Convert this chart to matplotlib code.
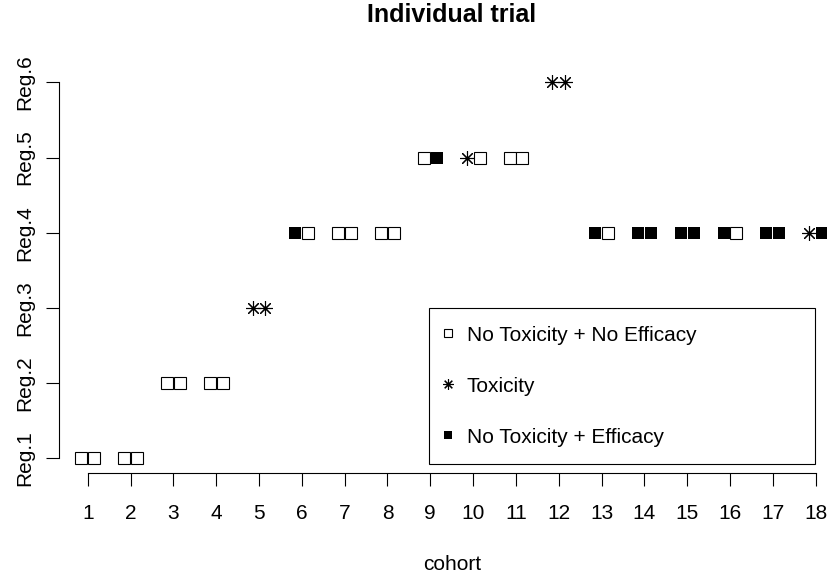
import numpy as np
import matplotlib
matplotlib.use("Agg")
import matplotlib.pyplot as plt
from matplotlib.lines import Line2D

plt.rcParams["font.family"] = ["Liberation Sans", "DejaVu Sans"]

# ── Data ───────────────────────────────────────────────────────────────────────
cohorts  = np.arange(1, 19)
regimen  = [1, 1, 2, 2, 3, 4, 4, 4, 5, 5, 5, 6, 4, 4, 4, 4, 4, 4]
# outcome per patient: N = no tox + no eff, T = toxicity, E = no tox + efficacy
patient1 = ["N", "N", "N", "N", "T", "E", "N", "N", "N", "T", "N", "T", "E", "E", "E", "E", "E", "T"]
patient2 = ["N", "N", "N", "N", "T", "N", "N", "N", "E", "N", "N", "T", "N", "E", "E", "N", "E", "E"]
reg_labels = ["Reg.1", "Reg.2", "Reg.3", "Reg.4", "Reg.5", "Reg.6"]

labels = {"N": "No Toxicity + No Efficacy", "T": "Toxicity", "E": "No Toxicity + Efficacy"}
styles = {
    "N": dict(marker="s", markerfacecolor="white", markeredgecolor="black",
              markersize=9.2, markeredgewidth=0.8),
    "T": dict(marker=(8, 2, 0), color="black", markersize=10.5, markeredgewidth=0.8),
    "E": dict(marker="s", markerfacecolor="black", markeredgecolor="black",
              markersize=9.2, markeredgewidth=0.0),
}
leg_sizes = {"N": 5.8, "T": 7.6, "E": 5.8}
offset = 0.15

# ── Figure ─────────────────────────────────────────────────────────────────────
W, H = 827, 579
fig = plt.figure(figsize=(W / 100, H / 100), dpi=100)
ax = fig.add_axes([58.6 / W, 1 - 473.3 / H, (844.8 - 58.6) / W, 406 / H])

xs = np.concatenate([cohorts - offset, cohorts + offset])
ys = np.concatenate([regimen, regimen])
outs = np.array(patient1 + patient2)

leg_handles = []
for key in ["N", "T", "E"]:
    m = outs == key
    ax.plot(xs[m], ys[m], linestyle="none", **styles[key])
    st = dict(styles[key], markersize=leg_sizes[key])
    leg_handles.append(Line2D([], [], linestyle="none", **st))

ax.set_xlim(0.32, 18.68)
ax.set_ylim(0.8, 6.2)

for s in ["top", "right"]:
    ax.spines[s].set_visible(False)
ax.spines["left"].set_bounds(1, 6)
ax.spines["bottom"].set_bounds(1, 18)
for s in ["left", "bottom"]:
    ax.spines[s].set_linewidth(0.8)

ax.set_xticks(cohorts)
ax.set_yticks(np.arange(1, 7))
ax.set_yticklabels(reg_labels, rotation=90, va="center")
ax.tick_params(axis="both", direction="out", length=9.4, width=0.8, labelsize=15)
ax.tick_params(axis="x", pad=13)
ax.tick_params(axis="y", pad=8)

ax.set_xlabel("cohort", fontsize=15)
ax.xaxis.set_label_coords(0.5, (473.3 - 565) / 406)
ax.xaxis.label.set_va("center")

fig.text(451.5 / W, 1 - 15 / H, "Individual trial", fontsize=18,
         fontweight="bold", ha="center", va="center")

leg = ax.legend(
    leg_handles,
    [labels[k] for k in ["N", "T", "E"]],
    loc="upper left",
    bbox_to_anchor=(0.4715, 0.0271, 0.4909, 0.3793),
    mode="expand",
    borderaxespad=0,
    fontsize=15,
    frameon=True,
    fancybox=False,
    framealpha=1,
    edgecolor="black",
    borderpad=0.83,
    handlelength=0.1,
    handletextpad=0.87,
    labelspacing=1.54,
)
leg.get_frame().set_linewidth(0.8)

fig.savefig("out.png", dpi=100)
